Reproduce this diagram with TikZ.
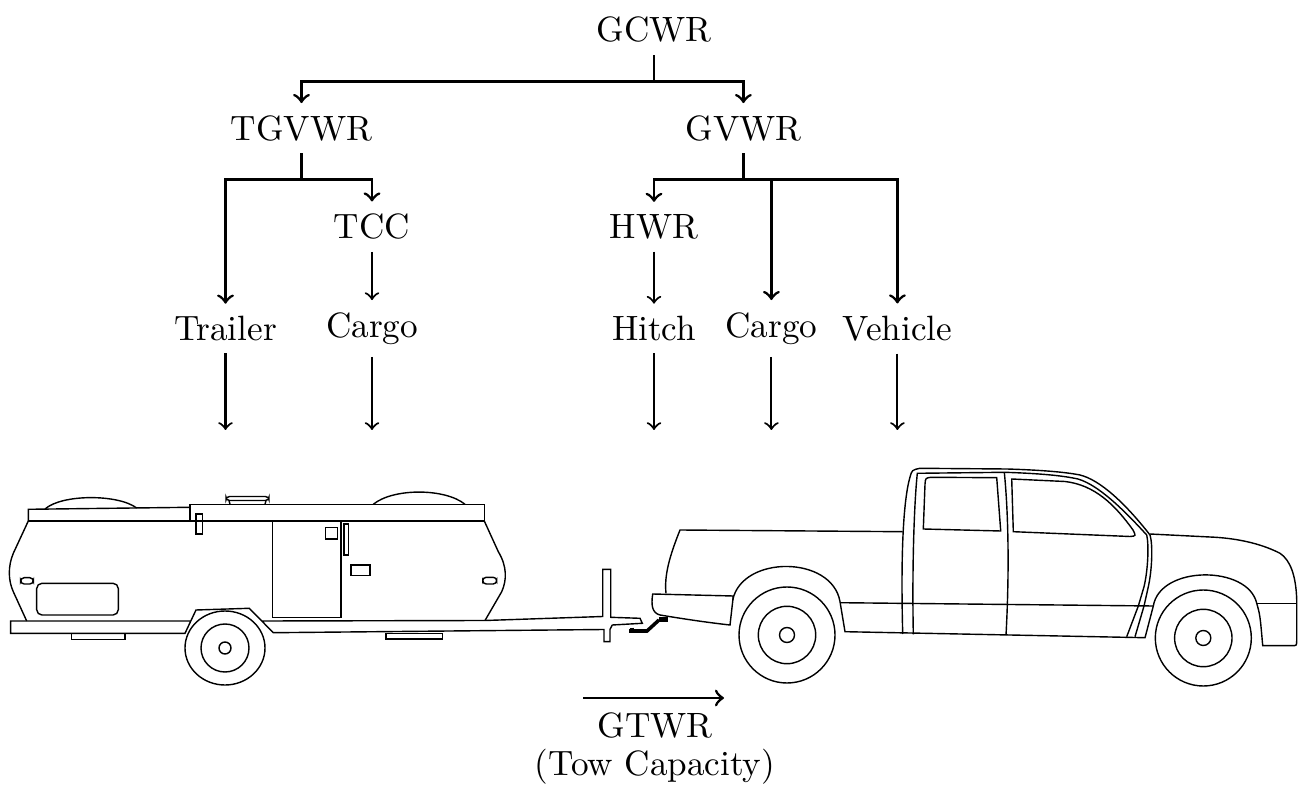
\documentclass[tikz,border=0pt]{standalone}
\begin{document}
\begin{tikzpicture}[x=0.01cm, y=-0.01cm,
	zweig/.style={thick, ->},
	pfeil/.style={semithick, ->},
	kontur/.style={thin},
	rad/.style={thin, fill=white}]
	\useasboundingbox (0,0) rectangle (1301,792);

	% Gewichtsbaum
	\node (gcwr) at (654,30) {GCWR};
	\node (tgvwr) at (301.5,128.3) {TGVWR};
	\node (gvwr) at (743.4,128.3) {GVWR};
	\node (tcc) at (372,226.7) {TCC};
	\node (hwr) at (654,226.7) {HWR};
	\node (trailer) at (225.5,328.5) {Trailer};
	\node (tcargo) at (372,328.5) {Cargo};
	\node (hitch) at (654,328.5) {Hitch};
	\node (vcargo) at (771.4,328.5) {Cargo};
	\node (vehicle) at (897.4,328.5) {Vehicle};

	% Verzweigungen
	\draw[zweig] (gcwr.south) -- ++(0,26) -| (tgvwr.north);
	\draw[zweig] (gcwr.south) -- ++(0,26) -| (gvwr.north);
	\draw[zweig] (tgvwr.south) -- ++(0,26) -| (trailer.north);
	\draw[zweig] (tgvwr.south) -- ++(0,26) -| (tcc.north);
	\draw[zweig] (gvwr.south) -- ++(0,26) -| (hwr.north);
	\draw[zweig] (gvwr.south) -- ++(0,26) -| (vcargo.north);
	\draw[zweig] (gvwr.south) -- ++(0,26) -| (vehicle.north);
	\draw[pfeil] (tcc) -- (tcargo);
	\draw[pfeil] (hwr) -- (hitch);

	% Pfeile zu den Fahrzeugen
	\coordinate (ground) at (0,430);
	\foreach \n in {trailer,tcargo,hitch,vcargo,vehicle}
		\draw[pfeil] (\n) -- (\n |- ground);

	% Anhaenger: Rahmen und Deichsel
	\draw[kontur] (190.7,621) -- (10.7,621) -- (10.7,633.3) -- (185,633.3)
		-- (196,610) -- (249.3,608.3) -- (273.3,632.7) -- (604,629.5)
		-- (604,641.7) -- (610,641.7) -- (610,629.3) -- (612.3,625)
		-- (642.3,623.3) -- (640,618.3) -- (610.7,617.3) -- (610.7,569.3)
		-- (602.7,569.3) -- (602.7,616.5) -- (485,620.5) -- (261.8,621);
	% Anhaenger: Aufbau
	\draw[kontur] (28.3,521) -- (13.3,553.3) .. controls (8,566) and (8,580)
		.. (13.3,591.7) -- (26.7,621);
	\draw[kontur] (484.3,521) -- (498.3,551.7) .. controls (507,566) and (507,580)
		.. (501.7,591.7) -- (485,620.5);
	\draw[kontur] (28.3,521) -- (28.3,509.3) -- (190,507.3) -- (190,521);
	\draw[kontur] (190,521) -- (190,504.3) -- (484.3,504.3) -- (484.3,521);
	\draw[kontur] (28.3,521) -- (484.3,521);
	\draw[kontur] (45,509) .. controls (62,494) and (118,494) .. (136.7,508);
	\draw[kontur] (373.3,504.3) .. controls (393,488) and (445,488) .. (465,504.3);
	\draw[kontur, rounded corners=1pt] (226,496.5) rectangle (269,500.5);
	\draw[kontur] (229,500.5) -- (230,504.3) (266,500.5) -- (265,504.3);
	% Tuer, Fenster, Leuchten
	\draw[kontur] (196,514) rectangle (202.7,534);
	\draw[kontur] (272.3,521) rectangle (341,617.3);
	\draw[kontur] (325.7,527.3) rectangle (337.3,539);
	\draw[kontur] (344,524) rectangle (348.7,555);
	\draw[kontur] (351,565) rectangle (370,575.7);
	\draw[kontur, rounded corners=1pt] (20.7,577.7) rectangle (33.3,584);
	\draw[kontur, rounded corners=1pt] (482.7,577.3) rectangle (496.7,584);
	\draw[kontur, rounded corners=1.5pt] (36.7,583.3) rectangle (118.3,615);
	\draw[kontur] (71.7,633.3) rectangle (125,639.3);
	\draw[kontur] (386,633.3) rectangle (442.7,639);
	% Anhaenger: Rad
	\draw[rad] (225,648) ellipse [x radius=40, y radius=37];
	\draw[kontur] (225,648) circle [radius=24];
	\draw[kontur] (225,648) circle [radius=6];

	% Kupplung
	\draw[line width=1pt] (629,631) -- (647,631) -- (659,620);
	\draw[line width=1pt] (632,627.5) -- (632,631);
	\fill (659,616.7) rectangle (668.3,621.7);

	% Zugfahrzeug: Ladeflaeche und Stossstange
	\draw[kontur] (902.7,531.7) -- (680,530) .. controls (670,555) and (664,575)
		.. (666,593.3);
	\draw[kontur] (733.3,596) -- (652.7,594) .. controls (651,605) and (652,613)
		.. (660,615) .. controls (690,620) and (712,623) .. (730,625) -- cycle;
	% Zugfahrzeug: Kotfluegel, Schweller, Front
	\draw[kontur] (732.7,600) .. controls (742,555) and (832,555) .. (840,601.7)
		-- (845,631.7) -- (1145,637.7) -- (1153.3,606)
		.. controls (1160,565) and (1248,565) .. (1256.7,603.3)
		.. controls (1260,615) .. (1262.7,645.7) -- (1291.7,645.7)
		.. controls (1296.7,645.7) .. (1296.7,640) -- (1296.7,600)
		.. controls (1296,575) and (1290,560) .. (1280,553.3)
		.. controls (1260,543) and (1235,538) .. (1210,537) -- (1150,534);
	\draw[kontur] (840,602.7) -- (1153.3,606);
	\draw[kontur] (1256.7,603.3) -- (1296.7,603.3);
	% Zugfahrzeug: Kabine
	\draw[kontur] (902.7,634) .. controls (901,570) and (902,505) .. (910,477)
		.. controls (912,470) .. (920,468.3) -- (1006.7,469)
		.. controls (1040,470) and (1065,472) .. (1080,475)
		.. controls (1100,480) and (1125,503) .. (1150,535)
		.. controls (1153,545) and (1152,570) .. (1148.3,586.7)
		-- (1144,606) -- (1135,636.7);
	\draw[kontur] (913.3,634.3) .. controls (912,570) and (914,505) .. (917.3,473.3)
		-- (1005,472.3) .. controls (1040,473.5) and (1062,475.5) .. (1078,479)
		.. controls (1098,485) and (1122,508) .. (1146.7,535)
		.. controls (1149,545) and (1148,570) .. (1144,586.7)
		-- (1138.3,606) -- (1126.7,636.7);
	\draw[kontur] (1004.3,472.3) .. controls (1009,520) and (1009,580) .. (1006,635);
	\draw[kontur] (923.3,529) -- (925,484) .. controls (925.5,478) .. (931,477.3)
		-- (996.7,477.7) -- (1000.7,531) -- cycle;
	\draw[kontur] (1013.3,531.7) -- (1011.7,479) -- (1065,481.5)
		.. controls (1095,485) and (1115,505) .. (1133,530)
		.. controls (1136,536) .. (1130,536.5) -- cycle;
	% Zugfahrzeug: Raeder
	\foreach \x/\y in {787/635, 1203.3/638}{
		\draw[rad] (\x,\y) circle [radius=48];
		\draw[kontur] (\x,\y) circle [radius=28.7];
		\draw[kontur] (\x,\y) circle [radius=7.5];
	}

	% Zugkraft
	\coordinate (towa) at (583,698);
	\coordinate (towb) at (724,698);
	\draw[thick, ->] (towa) -- (towb);
	\node[align=center] (gtwr) at (655,748.5) {GTWR\\[-1.2pt](Tow Capacity)};
\end{tikzpicture}
\end{document}
